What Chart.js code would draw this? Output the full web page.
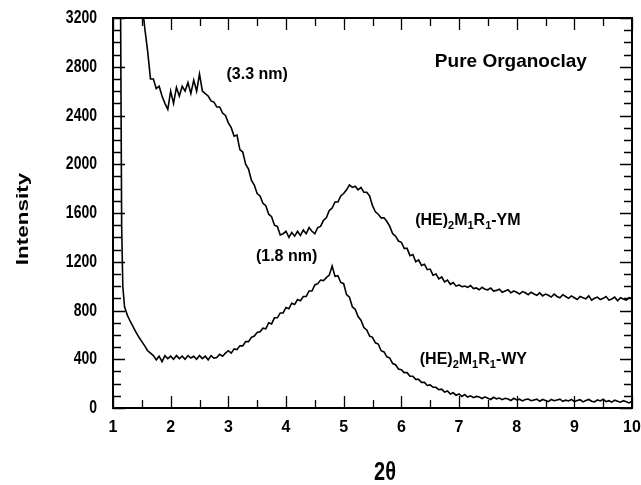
<!DOCTYPE html>
<html>
<head>
<meta charset="utf-8">
<script src="https://cdn.jsdelivr.net/npm/chart.js@4.4.1/dist/chart.umd.min.js"></script>
<style>
  html, body { margin: 0; padding: 0; background: #fff; }
  canvas { display: block; }
</style>
</head>
<body>
<canvas id="xrd" width="641" height="485"></canvas>
<script>
// 2-theta grid shared by both scans
const theta = [
  1.13, 1.15, 1.17,
  1.20, 1.25, 1.30, 1.35, 1.40, 1.45, 1.50, 1.55, 1.60, 1.65,
  1.70, 1.75, 1.80, 1.85, 1.90, 1.95, 2.00, 2.05, 2.10, 2.15,
  2.20, 2.25, 2.30, 2.35, 2.40, 2.45, 2.50, 2.55, 2.60, 2.65,
  2.70, 2.75, 2.80, 2.85, 2.90, 2.95, 3.00, 3.05, 3.10, 3.15,
  3.20, 3.25, 3.30, 3.35, 3.40, 3.45, 3.50, 3.55, 3.60, 3.65,
  3.70, 3.75, 3.80, 3.85, 3.90, 3.95, 4.00, 4.05, 4.10, 4.15,
  4.20, 4.25, 4.30, 4.35, 4.40, 4.45, 4.50, 4.55, 4.60, 4.65,
  4.70, 4.75, 4.80, 4.85, 4.90, 4.95, 5.00, 5.05, 5.10, 5.15,
  5.20, 5.25, 5.30, 5.35, 5.40, 5.45, 5.50, 5.55, 5.60, 5.65,
  5.70, 5.75, 5.80, 5.85, 5.90, 5.95, 6.00, 6.05, 6.10, 6.15,
  6.20, 6.25, 6.30, 6.35, 6.40, 6.45, 6.50, 6.55, 6.60, 6.65,
  6.70, 6.75, 6.80, 6.85, 6.90, 6.95, 7.00, 7.05, 7.10, 7.15,
  7.20, 7.25, 7.30, 7.35, 7.40, 7.45, 7.50, 7.55, 7.60, 7.65,
  7.70, 7.75, 7.80, 7.85, 7.90, 7.95, 8.00, 8.05, 8.10, 8.15,
  8.20, 8.25, 8.30, 8.35, 8.40, 8.45, 8.50, 8.55, 8.60, 8.65,
  8.70, 8.75, 8.80, 8.85, 8.90, 8.95, 9.00, 9.05, 9.10, 9.15,
  9.20, 9.25, 9.30, 9.35, 9.40, 9.45, 9.50, 9.55, 9.60, 9.65,
  9.70, 9.75, 9.80, 9.85, 9.90, 9.95, 10.00
];

// (HE)2M1R1-YM, counts (no data below 1.50)
const ymCounts = [
  null, null, null,
  null, null, null, null, null, null,
  3350, 3120, 2930, 2700, 2700, 2620, 2640, 2560, 2500, 2450,   // 1.50
  2600, 2500, 2630, 2560, 2640, 2600, 2670, 2580, 2690, 2600,   // 2.00
  2740, 2600, 2580, 2560, 2520, 2510, 2470, 2470, 2420, 2400,   // 2.50
  2340, 2300, 2230, 2240, 2120, 2100, 2000, 1960, 1870, 1830,   // 3.00
  1760, 1740, 1680, 1660, 1590, 1570, 1500, 1490, 1420, 1430,   // 3.50
  1450, 1400, 1440, 1410, 1450, 1415, 1460, 1430, 1480, 1450,   // 4.00
  1430, 1480, 1490, 1540, 1560, 1620, 1640, 1690, 1690, 1740,   // 4.50
  1760, 1790, 1830, 1810, 1820, 1790, 1810, 1770, 1770, 1740,   // 5.00
  1660, 1610, 1590, 1560, 1560, 1530, 1490, 1430, 1410, 1370,   // 5.50
  1360, 1310, 1310, 1250, 1260, 1200, 1215, 1170, 1180, 1135,   // 6.00
  1140, 1090, 1100, 1060, 1075, 1035, 1050, 1015, 1030, 1000,   // 6.50
  1010, 995, 1000, 990, 1005, 980, 985, 970, 990, 975,          // 7.00
  970, 985, 960, 965, 975, 950, 960, 970, 945, 960,             // 7.50
  950, 935, 955, 945, 930, 950, 935, 925, 945, 920,             // 8.00
  935, 925, 910, 935, 915, 905, 930, 915, 900, 920,             // 8.50
  905, 890, 915, 905, 895, 920, 885, 900, 910, 890,             // 9.00
  900, 915, 885, 895, 910, 880, 905, 895, 885, 905,             // 9.50
  900
];

// (HE)2M1R1-WY, counts
const wyCounts = [
  3400, 1500, 1000,
  830, 760, 710, 665, 620, 580, 545, 510, 470, 450,             // 1.20
  430, 395, 425, 380, 430, 405, 425, 400, 430, 405,             // 1.70
  425, 400, 430, 410, 425, 400, 430, 405, 425, 395,             // 2.20
  430, 410, 415, 440, 425, 450, 470, 450, 485, 480,             // 2.70
  510, 510, 545, 545, 580, 590, 620, 625, 655, 650,             // 3.20
  700, 690, 740, 740, 780, 780, 825, 815, 860, 850,             // 3.70
  890, 880, 915, 915, 960, 960, 1010, 1020, 1050, 1045,         // 4.20
  1070, 1090, 1165, 1080, 1085, 1030, 1020, 930, 910, 830,      // 4.70
  810, 750, 720, 660, 640, 590, 580, 535, 525, 470,             // 5.20
  460, 420, 410, 365, 355, 320, 315, 290, 290, 260,             // 5.70
  260, 235, 235, 210, 210, 185, 190, 170, 170, 150,             // 6.20
  155, 130, 140, 115, 125, 105, 115, 95, 110, 90,               // 6.70
  100, 85, 95, 90, 78, 92, 80, 70, 88, 75,                      // 7.20
  82, 68, 80, 74, 62, 80, 66, 72, 58, 70,                       // 7.70
  74, 60, 66, 72, 55, 70, 62, 52, 70, 60,                       // 8.20
  66, 72, 55, 64, 58, 70, 52, 62, 68, 50,                       // 8.70
  62, 70, 55, 50, 66, 58, 72, 52, 60, 48,                       // 9.20
  64, 55, 48, 60, 52, 42, 55                                    // 9.70
];

const xTickLabels = ['1', '2', '3', '4', '5', '6', '7', '8', '9', '10'];
const yTickLabels = ['0', '400', '800', '1200', '1600', '2000', '2400', '2800', '3200'];

// text placed in data units: [text, 2theta, counts, font size]
const notes = [
  ['(3.3 nm)', 3.50, 2732, 16],
  ['(1.8 nm)', 4.01, 1243, 16],
  ['Pure Organoclay', 7.90, 2843, 19]
];
const sampleLabels = [
  { parts: [['(HE)'], ['2', 1], ['M'], ['1', 1], ['R'], ['1', 1], ['-YM']], x: 6.24, y: 1502 },
  { parts: [['(HE)'], ['2', 1], ['M'], ['1', 1], ['R'], ['1', 1], ['-WY']], x: 6.32, y: 361 }
];

const FONT = '"Liberation Sans", Arial, sans-serif';

function toPoints(counts) {
  return theta.map((t, i) => ({ x: t, y: counts[i] }));
}

// tall bold text, squeezed the way the old plotting package printed it
function tallText(ctx, str, x, y, size, sy, align) {
  ctx.save();
  ctx.translate(x, y);
  ctx.scale(1, sy);
  ctx.font = `bold ${size}px ${FONT}`;
  ctx.textAlign = align;
  ctx.textBaseline = 'middle';
  ctx.fillText(str, 0, 0);
  ctx.restore();
}

const frameAndText = {
  id: 'frameAndText',
  afterDatasetsDraw(chart) {
    const { ctx, chartArea: a, scales: { x, y } } = chart;
    ctx.save();
    ctx.strokeStyle = '#000';
    ctx.fillStyle = '#000';

    // inward ticks on all four sides
    ctx.lineWidth = 1.3;
    ctx.beginPath();
    for (let v = 1; v <= 10.001; v += 0.5) {
      const px = Math.round(x.getPixelForValue(v)) + 0.5;
      const len = Number.isInteger(v) ? 12 : 8;
      ctx.moveTo(px, a.bottom); ctx.lineTo(px, a.bottom - len);
      ctx.moveTo(px, a.top); ctx.lineTo(px, a.top + len);
    }
    for (let v = 0; v <= 3200; v += 100) {
      const py = Math.round(y.getPixelForValue(v)) + 0.5;
      const len = v % 400 === 0 ? 12 : 8;
      ctx.moveTo(a.left, py); ctx.lineTo(a.left + len, py);
      ctx.moveTo(a.right, py); ctx.lineTo(a.right - len, py);
    }
    ctx.stroke();

    ctx.lineWidth = 2;
    ctx.strokeRect(a.left, a.top, a.right - a.left, a.bottom - a.top);

    // tick labels
    xTickLabels.forEach(t => {
      tallText(ctx, t, x.getPixelForValue(+t), a.bottom + 19, 16, 1.05, 'center');
    });
    yTickLabels.forEach(t => {
      tallText(ctx, t, a.left - 16, y.getPixelForValue(+t), 14, 1.35, 'right');
    });

    // axis titles
    tallText(ctx, '2θ', 385, 473, 20, 1.3, 'center');
    ctx.save();
    ctx.translate(23, 219);
    ctx.rotate(-Math.PI / 2);
    ctx.scale(1.32, 1);
    ctx.font = `bold 17px ${FONT}`;
    ctx.textAlign = 'center';
    ctx.textBaseline = 'middle';
    ctx.fillText('Intensity', 0, 0);
    ctx.restore();

    // annotations
    ctx.textAlign = 'center';
    ctx.textBaseline = 'middle';
    notes.forEach(([text, nx, ny, size]) => {
      ctx.font = `bold ${size}px ${FONT}`;
      ctx.fillText(text, x.getPixelForValue(nx), y.getPixelForValue(ny));
    });

    // sample names with subscripts
    ctx.textAlign = 'left';
    ctx.textBaseline = 'alphabetic';
    sampleLabels.forEach(lbl => {
      let cx = x.getPixelForValue(lbl.x);
      const base = y.getPixelForValue(lbl.y);
      lbl.parts.forEach(([txt, sub]) => {
        ctx.font = `bold ${sub ? 11 : 16}px ${FONT}`;
        ctx.fillText(txt, cx, sub ? base + 4 : base);
        cx += ctx.measureText(txt).width;
      });
    });
    ctx.restore();
  }
};

new Chart(document.getElementById('xrd'), {
  type: 'line',
  data: {
    datasets: [
      { label: '(HE)2M1R1-YM', data: toPoints(ymCounts) },
      { label: '(HE)2M1R1-WY', data: toPoints(wyCounts) }
    ]
  },
  options: {
    responsive: false,
    animation: false,
    devicePixelRatio: 1,
    layout: { padding: { left: 113, right: 9, top: 18, bottom: 77 } },
    elements: {
      point: { radius: 0 },
      line: { borderColor: '#000', borderWidth: 1.6, tension: 0, fill: false }
    },
    scales: {
      x: { type: 'linear', min: 1, max: 10, display: false },
      y: { min: 0, max: 3200, display: false }
    },
    plugins: {
      legend: { display: false },
      tooltip: { enabled: false }
    }
  },
  plugins: [frameAndText]
});
</script>
</body>
</html>
